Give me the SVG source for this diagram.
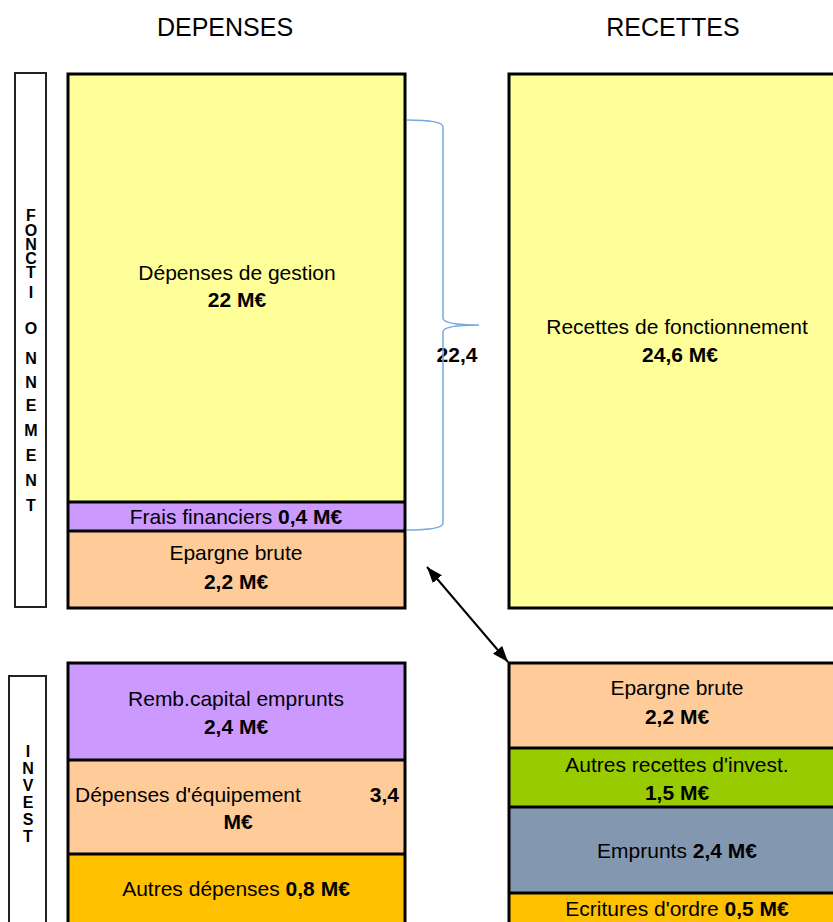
<svg xmlns="http://www.w3.org/2000/svg" width="833" height="922" viewBox="0 0 833 922">
<style>
text{font-family:"Liberation Sans",Arial,sans-serif;fill:#000}
.t{font-size:21px;text-anchor:middle}
.h{font-size:25px;text-anchor:middle}
.v{font-size:16px;font-weight:bold;text-anchor:middle}
.b{font-weight:bold}
.frame{fill:none;stroke:#000;stroke-width:3}
.sep{stroke:#000;stroke-width:3}
.lbl{fill:#fff;stroke:#222;stroke-width:2}
.yel{fill:#FFFF99}.pur{fill:#CC99FF}.peach{fill:#FFCC99}.gold{fill:#FFC000}.green{fill:#99CC00}.grey{fill:#8497B0}
</style>
<defs>
<marker id="ah" viewBox="0 0 16 12" refX="16" refY="6" markerWidth="16" markerHeight="12" markerUnits="userSpaceOnUse" orient="auto-start-reverse">
<path d="M0,0 L16,6 L0,12 z" fill="#000"/>
</marker>
</defs>
<rect width="833" height="922" fill="#fff"/>

<g id="titles">
<text class="h" x="225" y="36">DEPENSES</text>
<text class="h" x="673" y="36">RECETTES</text>
</g>

<g id="label-fonctionnement">
<rect class="lbl" x="15" y="73" width="31" height="534"/>
<text class="v" x="31" y="221">F</text>
<text class="v" x="31" y="236">O</text>
<text class="v" x="31" y="250">N</text>
<text class="v" x="31" y="264">C</text>
<text class="v" x="31" y="278">T</text>
<text class="v" x="31" y="298">I</text>
<text class="v" x="31" y="334">O</text>
<text class="v" x="31" y="364">N</text>
<text class="v" x="31" y="388">N</text>
<text class="v" x="31" y="411">E</text>
<text class="v" x="31" y="436">M</text>
<text class="v" x="31" y="461">E</text>
<text class="v" x="31" y="486">N</text>
<text class="v" x="31" y="511">T</text>
</g>

<g id="label-invest">
<rect class="lbl" x="9" y="676" width="37" height="260"/>
<text class="v" x="28" y="757">I</text>
<text class="v" x="28" y="774">N</text>
<text class="v" x="28" y="791">V</text>
<text class="v" x="28" y="808">E</text>
<text class="v" x="28" y="825">S</text>
<text class="v" x="28" y="842">T</text>
</g>

<g id="depenses-fonctionnement">
<rect class="yel" x="68" y="74" width="337" height="428"/>
<rect class="pur" x="68" y="502" width="337" height="29"/>
<rect class="peach" x="68" y="531" width="337" height="77"/>
<line class="sep" x1="68" y1="502" x2="405" y2="502"/>
<line class="sep" x1="68" y1="531" x2="405" y2="531"/>
<rect class="frame" x="68" y="74" width="337" height="534"/>
<text class="t" x="237" y="280">Dépenses de gestion</text>
<text class="t b" x="237" y="307">22 M€</text>
<text class="t" x="236" y="524">Frais financiers <tspan class="b">0,4 M€</tspan></text>
<text class="t" x="236" y="560">Epargne brute</text>
<text class="t b" x="236" y="589">2,2 M€</text>
</g>

<g id="recettes-fonctionnement">
<rect class="yel" x="509" y="74" width="337" height="534"/>
<rect class="frame" x="509" y="74" width="337" height="534"/>
<text class="t" x="677" y="334">Recettes de fonctionnement</text>
<text class="t b" x="680" y="362">24,6 M€</text>
</g>

<g id="depenses-invest">
<rect class="pur" x="68" y="663" width="337" height="97"/>
<rect class="peach" x="68" y="760" width="337" height="94"/>
<rect class="gold" x="68" y="854" width="337" height="72"/>
<line class="sep" x1="68" y1="760" x2="405" y2="760"/>
<line class="sep" x1="68" y1="854" x2="405" y2="854"/>
<rect class="frame" x="68" y="663" width="337" height="263"/>
<text class="t" x="236" y="706">Remb.capital emprunts</text>
<text class="t b" x="236" y="734">2,4 M€</text>
<text class="t" x="75" y="802" style="text-anchor:start">Dépenses d'équipement</text>
<text class="t b" x="399" y="802" style="text-anchor:end">3,4</text>
<text class="t b" x="238" y="829">M€</text>
<text class="t" x="236" y="896">Autres dépenses <tspan class="b">0,8 M€</tspan></text>
</g>

<g id="recettes-invest">
<rect class="peach" x="509" y="663" width="337" height="85"/>
<rect class="green" x="509" y="748" width="337" height="59"/>
<rect class="grey" x="509" y="807" width="337" height="86"/>
<rect class="gold" x="509" y="893" width="337" height="33"/>
<line class="sep" x1="509" y1="748" x2="846" y2="748"/>
<line class="sep" x1="509" y1="807" x2="846" y2="807"/>
<line class="sep" x1="509" y1="893" x2="846" y2="893"/>
<rect class="frame" x="509" y="663" width="337" height="263"/>
<text class="t" x="677" y="695">Epargne brute</text>
<text class="t b" x="677" y="724">2,2 M€</text>
<text class="t" x="677" y="772">Autres recettes d'invest.</text>
<text class="t b" x="677" y="800">1,5 M€</text>
<text class="t" x="677" y="858">Emprunts <tspan class="b">2,4 M€</tspan></text>
<text class="t" x="677" y="916">Ecritures d'ordre <tspan class="b">0,5 M€</tspan></text>
</g>

<g id="total-label">
<text class="t b" x="457" y="362">22,4</text>
</g>

<g id="connectors">
<path d="M407,120 Q443,120 443,127 L443,318 Q443,325 479,325 Q443,325 443,332 L443,523 Q443,530 407,530" fill="none" stroke="#74A9DE" stroke-width="1.5"/>
<line x1="427" y1="567" x2="508" y2="662" stroke="#000" stroke-width="2" marker-start="url(#ah)" marker-end="url(#ah)"/>
</g>
</svg>
